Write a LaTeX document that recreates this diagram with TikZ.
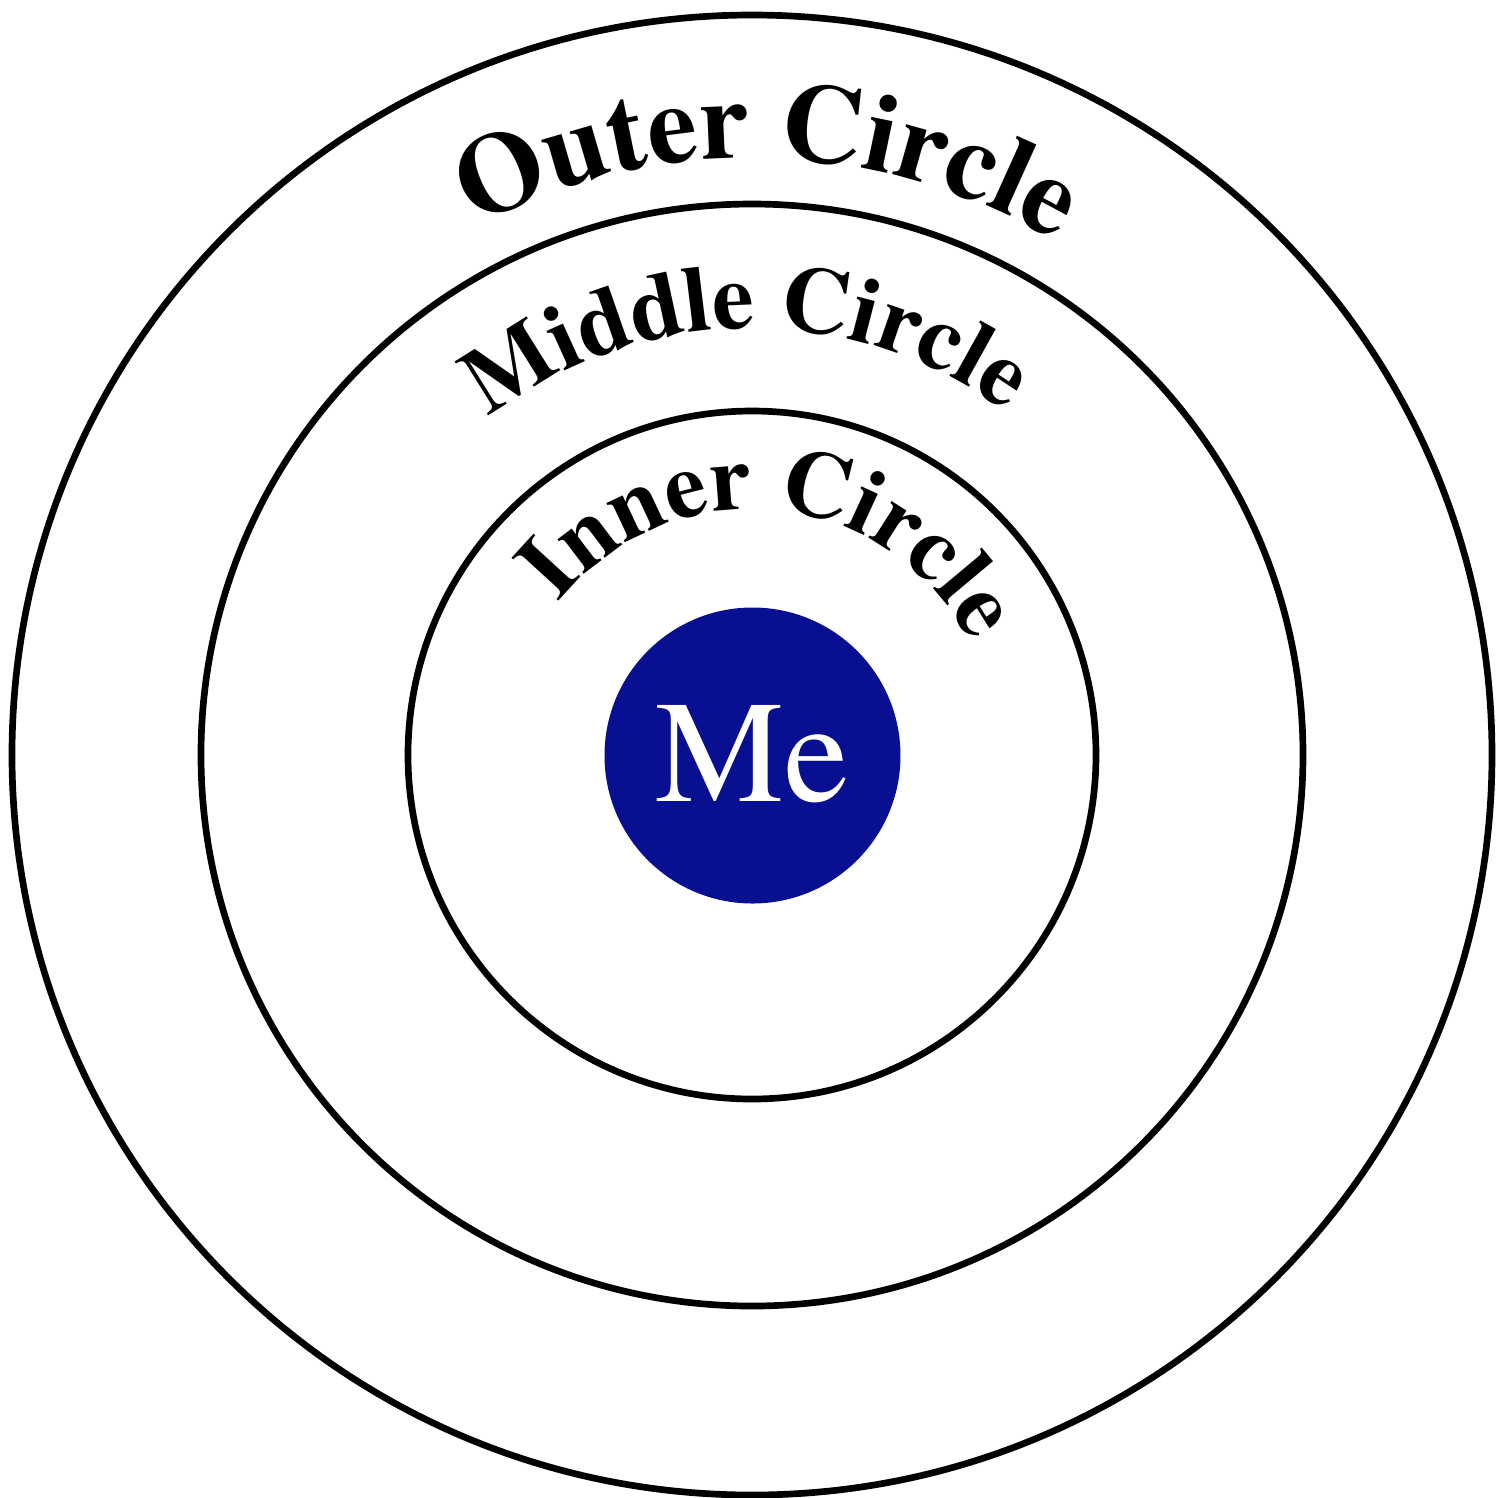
\documentclass[tikz,border=0pt]{standalone}
\usepackage{fontspec}
\setmainfont{texgyretermes}[Extension=.otf, UprightFont=*-regular, BoldFont=*-bold]
\usetikzlibrary{decorations.text}
\definecolor{meBlue}{RGB}{8, 16, 145}

\tikzset{
  ring/.style={line width=1.9pt},
  ringlabel/.style={decorate, decoration={text along path, text align=center, text={#1}}}
}

\begin{document}
\begin{tikzpicture}
        \useasboundingbox (-7.52,-7.42) rectangle (7.55,7.55);
        % the three rings
        \foreach \r in {7.40, 5.51, 3.44}
          \draw[ring] (0,0) circle (\r);
        % labels bent along each ring
        \path[ringlabel={|\fontsize{31.9}{36}\selectfont\bfseries|Outer Circle}]
          (158.5:5.97) arc[start angle=158.5, end angle=18.5, radius=5.97];
        \path[ringlabel={|\fontsize{26.7}{30}\selectfont\bfseries|Middle Circle}]
          (160.8:4.27) arc[start angle=160.8, end angle=20.8, radius=4.27];
        \path[ringlabel={|\fontsize{26.7}{30}\selectfont\bfseries|Inner Circle}]
          (164.5:2.46) arc[start angle=164.5, end angle=4.5, radius=2.46];
        % centre
        \fill[meBlue] (0.005,-0.005) circle (1.48);
        \node[text=white, font=\fontsize{41.3}{46}\selectfont] (me) at (0.005,0.01) {Me};
      \end{tikzpicture}
\end{document}
